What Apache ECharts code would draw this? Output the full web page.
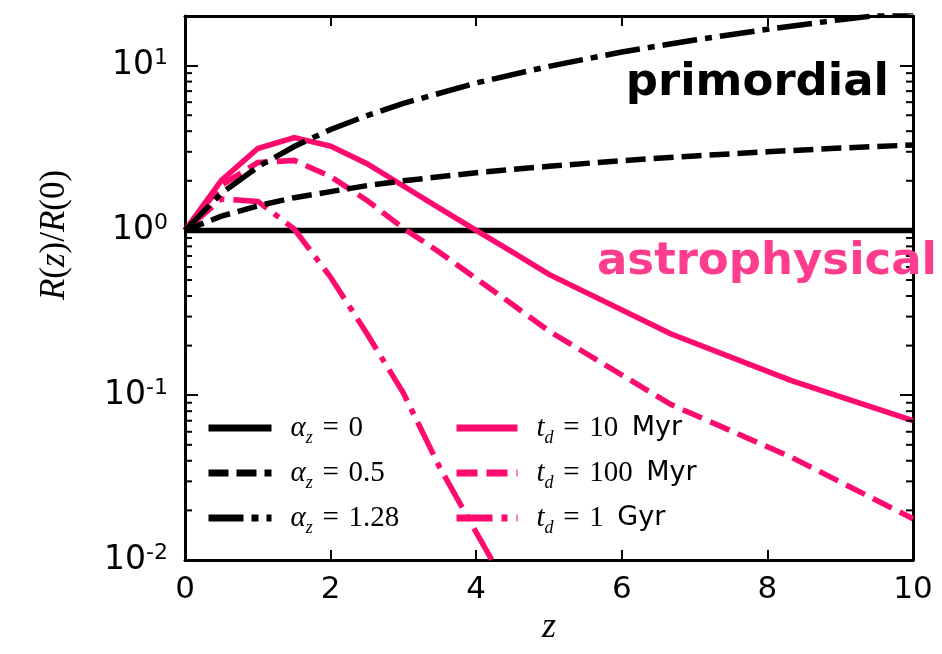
<!DOCTYPE html>
<html>
<head>
<meta charset="utf-8">
<script src="https://cdn.jsdelivr.net/npm/echarts@6/dist/echarts.min.js"></script>
<style>
  html, body { margin: 0; padding: 0; background: #fff; }
  #chart { width: 942px; height: 654px; }
</style>
</head>
<body>
<div id="chart"></div>
<script>
// Redshift evolution of the merger rate, R(z)/R(0)

// primordial models: R ∝ (1+z)^alpha_z
const zPrim = [0, 0.5, 1, 1.5, 2, 2.5, 3, 4, 5, 6, 7, 8, 9, 10];
const alpha0 = [1, 1, 1, 1, 1, 1, 1, 1, 1, 1, 1, 1, 1, 1];
const alpha05 = [1, 1.22, 1.41, 1.58, 1.72, 1.87, 2.0, 2.24, 2.45, 2.65, 2.83, 3.0, 3.16, 3.30];
const alpha128 = [1, 1.68, 2.43, 3.23, 4.10, 4.97, 5.90, 7.85, 9.9, 12.1, 14.3, 16.6, 19.0, 21.3];

// astrophysical models for three delay times
const zAstro = [0, 0.5, 1, 1.5, 2, 2.5, 3, 3.5, 4, 4.5, 5, 6.67, 8.33, 10];
const td10Myr = [1, 2.01, 3.14, 3.66, 3.25, 2.54, 1.86, 1.36, 1.0, 0.738, 0.541, 0.236, 0.1225, 0.070];
const td100Myr = [1, 1.88, 2.58, 2.66, 2.12, 1.52, 1.03, 0.735, 0.51, 0.355, 0.245, 0.088, 0.042, 0.0178];
const zGyr = [0, 0.5, 1, 1.5, 2, 2.5, 3, 3.5, 4, 4.5];
const td1Gyr = [1, 1.55, 1.5, 1.02, 0.52, 0.236, 0.103, 0.0364, 0.0147, 0.006];

// axis ticks
const xTicks = [0, 2, 4, 6, 8, 10];
const yMinorTicks = [0.02, 0.03, 0.04, 0.05, 0.06, 0.07, 0.08, 0.09,
                     0.2, 0.3, 0.4, 0.5, 0.6, 0.7, 0.8, 0.9,
                     2, 3, 4, 5, 6, 7, 8, 9];

const PINK = '#ff0a6e';
const SERIF = 'Liberation Serif';
const SANS = 'DejaVu Sans';
const EQ = '\u2004=\u2004';

const pairs = (xs, ys) => xs.map((x, i) => [x, ys[i]]);

const legendText = {
  a0: '{m|α}{sb|z}{r|' + EQ + '0}',
  a05: '{m|α}{sb|z}{r|' + EQ + '0.5}',
  a128: '{m|α}{sb|z}{r|' + EQ + '1.28}',
  t10: '{m|t}{sb|d}{r|' + EQ + '10}{u|\u2002Myr}',
  t100: '{m|t}{sb|d}{r|' + EQ + '100}{u|\u2002Myr}',
  t1g: '{m|t}{sb|d}{r|' + EQ + '1}{u|\u2002Gyr}'
};

// fixed line height; the subscript token is pushed down by its top padding
const LH = 26;
const legendRich = {
  m: { fontFamily: SERIF, fontStyle: 'italic', fontSize: 29, color: '#000', lineHeight: LH, padding: [0, 0, 0, 14] },
  sb: { fontFamily: SERIF, fontStyle: 'italic', fontSize: 18, color: '#000', lineHeight: LH, padding: [20, 0, 0, 0] },
  r: { fontFamily: SERIF, fontSize: 29, color: '#000', lineHeight: LH },
  u: { fontFamily: SANS, fontSize: 27, color: '#000', lineHeight: LH }
};

function lineSeries(name, data, color, type, z) {
  return {
    name: name,
    type: 'line',
    data: data,
    symbol: 'none',
    z: z,
    clip: true,
    lineStyle: { color: color, width: 5.5, type: type, cap: 'butt', join: 'miter' },
    itemStyle: { color: color },
    emphasis: { disabled: true }
  };
}

const axisCommon = {
  axisLine: { show: true, onZero: false, lineStyle: { color: '#000', width: 3 } },
  splitLine: { show: false }
};

const legendCommon = {
  orient: 'vertical', top: 404,
  itemHeight: 24, itemGap: 7,
  selectedMode: false,
  formatter: n => legendText[n],
  textStyle: { rich: legendRich },
  itemStyle: { opacity: 0, borderWidth: 0 },
  lineStyle: { width: 7, cap: 'butt' }
};

const chart = echarts.init(document.getElementById('chart'), null, { renderer: 'canvas' });

chart.setOption({
  animation: false,
  backgroundColor: '#fff',
  grid: { left: 185, right: 29, top: 16, bottom: 94, show: false, containLabel: false },
  xAxis: [
    Object.assign({}, axisCommon, {
      type: 'value', min: 0, max: 10, interval: 2, position: 'bottom',
      axisTick: { inside: true, length: 10, lineStyle: { color: '#000', width: 2 } },
      axisLabel: { fontFamily: SANS, fontSize: 31, color: '#000', margin: 14 },
      name: 'z', nameLocation: 'middle', nameGap: 46,
      nameTextStyle: { fontFamily: SERIF, fontStyle: 'italic', fontSize: 36, color: '#000' }
    }),
    Object.assign({}, axisCommon, {
      type: 'value', min: 0, max: 10, interval: 2, position: 'top',
      axisTick: { inside: true, length: 10, lineStyle: { color: '#000', width: 2 } },
      axisLabel: { show: false }
    })
  ],
  yAxis: [
    Object.assign({}, axisCommon, {
      type: 'log', logBase: 10, min: 0.01, max: 20, position: 'left',
      axisTick: { inside: true, length: 13, lineStyle: { color: '#000', width: 2 } },
      axisLabel: {
        margin: 17,
        formatter: function (v) {
          const e = Math.round(Math.log10(v));
          if (Math.abs(v - Math.pow(10, e)) > 1e-6 * Math.pow(10, e)) return '';
          return '{b|10}{s|' + e + '}';
        },
        rich: {
          b: { fontFamily: SANS, fontSize: 33, color: '#000' },
          s: { fontFamily: SANS, fontSize: 22, color: '#000', padding: [0, 0, 14, 0] }
        }
      }
    }),
    Object.assign({}, axisCommon, {
      type: 'log', logBase: 10, min: 0.01, max: 20, position: 'right',
      axisTick: { inside: true, length: 13, lineStyle: { color: '#000', width: 2 } },
      axisLabel: { show: false }
    })
  ],
  legend: [
    Object.assign({}, legendCommon, { data: ['a0', 'a05', 'a128'], left: 200, itemWidth: 63 }),
    Object.assign({}, legendCommon, { data: ['t10', 't100', 't1g'], left: 448, itemWidth: 61 })
  ],
  graphic: [
    {
      // y-axis title
      type: 'text', x: 55, y: 235, rotation: Math.PI / 2, z: 100,
      style: {
        text: '{i|R}{r|(}{i|z}{r|)/}{i|R}{r|(0)}',
        align: 'center', verticalAlign: 'middle',
        rich: {
          i: { fontFamily: SERIF, fontStyle: 'italic', fontSize: 35, fill: '#000' },
          r: { fontFamily: SERIF, fontSize: 35, fill: '#000' }
        }
      }
    },
    {
      type: 'text', right: 942 - 889, top: 61, z: 100,
      style: { text: 'primordial', fontFamily: SANS, fontWeight: 'bold', fontSize: 45, fill: '#000' }
    },
    {
      type: 'text', left: 597, top: 240, z: 100,
      style: { text: 'astrophysical', fontFamily: SANS, fontWeight: 'bold', fontSize: 45, fill: '#ff3d8e' }
    }
  ],
  series: [
    lineSeries('a0', pairs(zPrim, alpha0), '#000', 'solid', 2),
    lineSeries('t10', pairs(zAstro, td10Myr), PINK, 'solid', 3),
    lineSeries('t100', pairs(zAstro, td100Myr), PINK, [21, 9], 3),
    lineSeries('t1g', pairs(zGyr, td1Gyr), PINK, [36, 9, 6, 9], 3),
    lineSeries('a05', pairs(zPrim, alpha05), '#000', [20, 8], 4),
    lineSeries('a128', pairs(zPrim, alpha128), '#000', [35, 8, 7, 8], 4),
    {
      // minor log ticks on the left and right frame
      type: 'custom',
      name: 'minorTicks',
      silent: true,
      clip: false,
      z: 5,
      data: yMinorTicks.map(v => [0, v]),
      encode: { x: 0, y: 1 },
      renderItem: function (params, api) {
        const v = api.value(1);
        const pl = api.coord([0, v]);
        const pr = api.coord([10, v]);
        return {
          type: 'group',
          children: [
            { type: 'line', shape: { x1: pl[0], y1: pl[1], x2: pl[0] + 7, y2: pl[1] }, style: { stroke: '#000', lineWidth: 2 } },
            { type: 'line', shape: { x1: pr[0], y1: pr[1], x2: pr[0] - 7, y2: pr[1] }, style: { stroke: '#000', lineWidth: 2 } }
          ]
        };
      }
    }
  ]
});
</script>
</body>
</html>
